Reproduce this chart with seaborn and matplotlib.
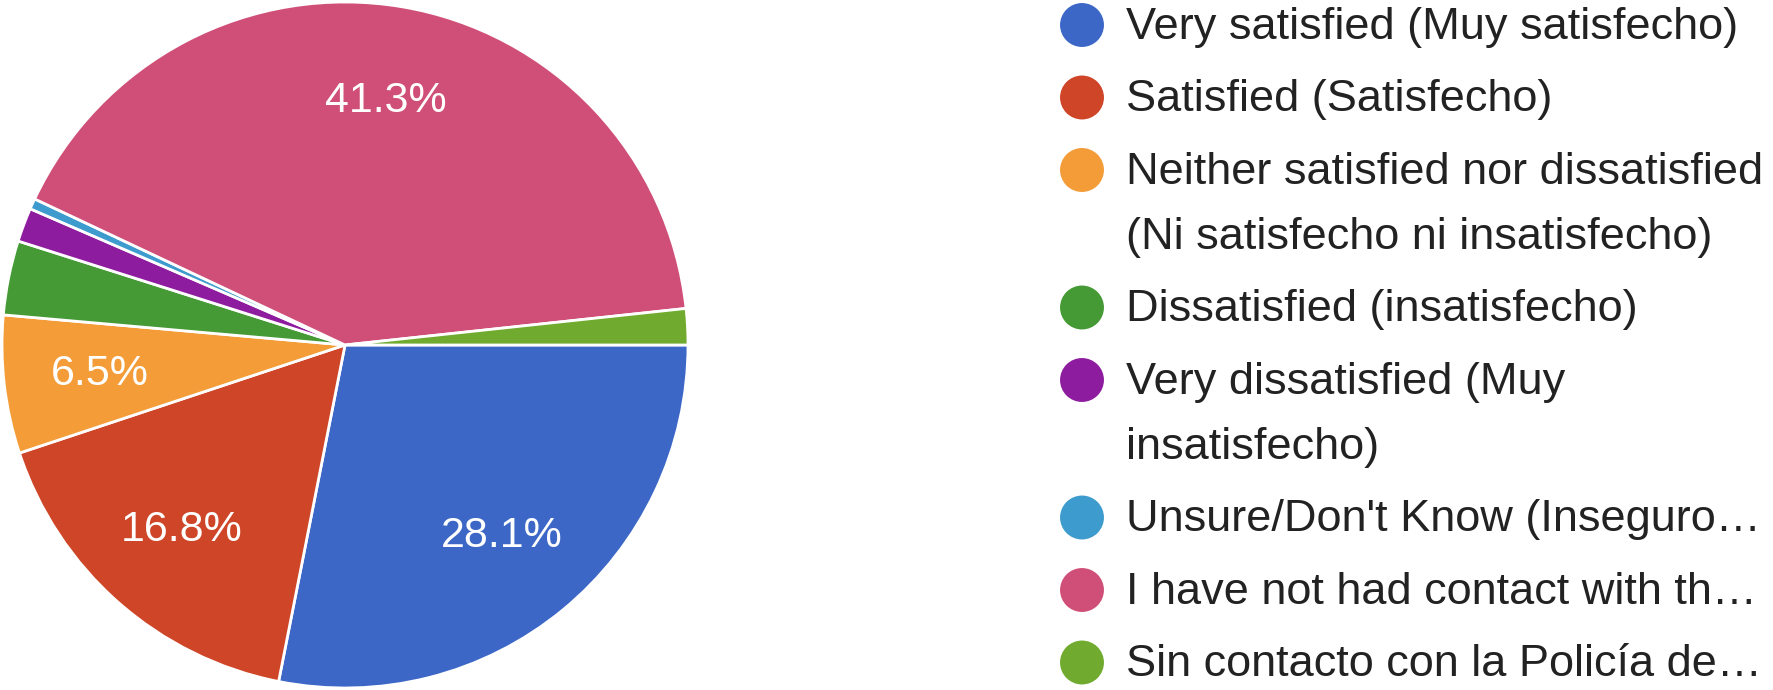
import matplotlib.pyplot as plt
import seaborn as sns

labels = [
    "Very satisfied (Muy satisfecho)",
    "Satisfied (Satisfecho)",
    "Neither satisfied nor dissatisfied\n(Ni satisfecho ni insatisfecho)",
    "Dissatisfied (insatisfecho)",
    "Very dissatisfied (Muy\ninsatisfecho)",
    "Unsure/Don't Know (Inseguro\u2026",
    "I have not had contact with th\u2026",
    "Sin contacto con la Polic\u00eda de\u2026",
]
shares = [28.1, 16.8, 6.5, 3.5, 1.6, 0.5, 41.3, 1.7]
colors = ["#3c67c7", "#cf4527", "#f39c38", "#459a35",
          "#8d1c9e", "#3d9bcd", "#d04f78", "#70ab2f"]

sns.set_theme(style="white")
plt.rcParams['font.family'] = ['Liberation Sans', 'DejaVu Sans']

W, H = 1774, 690
fig = plt.figure(figsize=(W / 100, H / 100), dpi=100)

# pie
ax = fig.add_axes([2 / W, 2 / H, 686 / W, 686 / H])
ax.pie(shares, colors=colors, startangle=0, counterclock=False,
       wedgeprops=dict(edgecolor="white", linewidth=2),
       autopct=lambda p: f"{p:.1f}%" if p > 5 else "",
       pctdistance=0.72,
       textprops=dict(color="white", fontsize=31))
ax.set_xlim(-1, 1)
ax.set_ylim(-1, 1)
ax.set_aspect("equal")
ax.axis("off")

# legend drawn in pixel coordinates
lg = fig.add_axes([0, 0, 1, 1], zorder=-1)
lg.set_xlim(0, W)
lg.set_ylim(H, 0)
lg.axis("off")

y = 25
for lab, col in zip(labels, colors):
    lg.scatter([1082], [y], s=1000, color=col, edgecolors="none")
    for i, line in enumerate(lab.split("\n")):
        lg.text(1126, y + 14 + i * 65, line, fontsize=32.5, color="#222222",
                va="baseline", ha="left")
    y += 72.5 + 65 * lab.count("\n")

fig.savefig("out.png", dpi=100)
